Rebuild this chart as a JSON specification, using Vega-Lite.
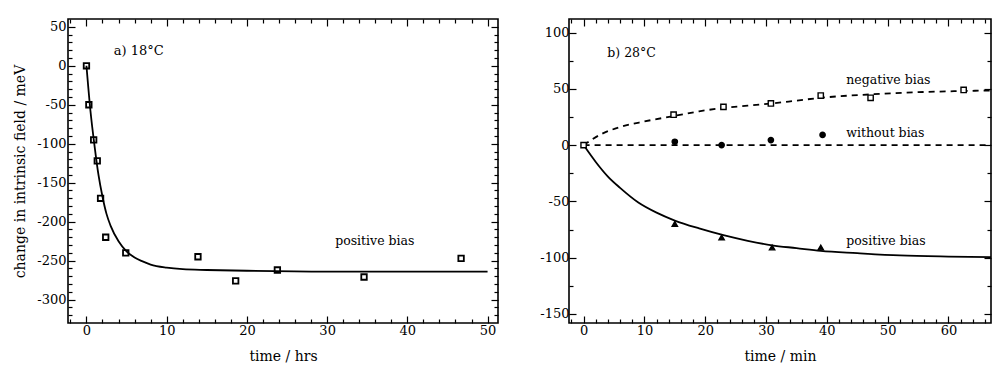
{
  "$schema": "https://vega.github.io/schema/vega-lite/v6.json",
  "padding": {"left": 12, "top": 17, "right": 0, "bottom": 0},
  "background": "white",
  "config": {
    "font": "DejaVu Serif",
    "view": {"stroke": "black", "strokeWidth": 1.6},
    "axis": {"labelFont": "DejaVu Serif", "titleFont": "DejaVu Serif", "labelFontSize": 13, "titleFontSize": 14, "titleFontWeight": "normal", "labelColor": "black", "titleColor": "black", "tickColor": "black", "grid": false, "domain": false, "tickWidth": 1.2}
  },
  "datasets": {
    "ptsA": [
      {"t": 0, "v": 0}, {"t": 0.3, "v": -50}, {"t": 0.9, "v": -95}, {"t": 1.35, "v": -122},
      {"t": 1.76, "v": -170}, {"t": 2.4, "v": -220}, {"t": 4.9, "v": -240}, {"t": 13.9, "v": -245},
      {"t": 18.6, "v": -276}, {"t": 23.8, "v": -262}, {"t": 34.6, "v": -271}, {"t": 46.7, "v": -247}
    ],
    "fitA": [
      {"t": 0, "v": 0}, {"t": 0.5, "v": -58}, {"t": 1, "v": -102}, {"t": 1.5, "v": -140},
      {"t": 2, "v": -168}, {"t": 2.5, "v": -190}, {"t": 3, "v": -205}, {"t": 4, "v": -225},
      {"t": 5, "v": -238}, {"t": 6, "v": -246}, {"t": 7, "v": -251}, {"t": 8, "v": -255},
      {"t": 10, "v": -259}, {"t": 12, "v": -261}, {"t": 15, "v": -262}, {"t": 20, "v": -263},
      {"t": 30, "v": -264}, {"t": 40, "v": -264}, {"t": 50, "v": -264}
    ],
    "ptsB": [
      {"t": 0, "v": 0, "s": "negative"}, {"t": 14.8, "v": 27, "s": "negative"}, {"t": 23, "v": 34, "s": "negative"},
      {"t": 30.8, "v": 37, "s": "negative"}, {"t": 39, "v": 44, "s": "negative"}, {"t": 47.2, "v": 42, "s": "negative"},
      {"t": 62.5, "v": 49, "s": "negative"},
      {"t": 15, "v": 3, "s": "without"}, {"t": 22.7, "v": 0, "s": "without"}, {"t": 30.8, "v": 4.5, "s": "without"},
      {"t": 39.3, "v": 9, "s": "without"},
      {"t": 15, "v": -70, "s": "positive"}, {"t": 22.7, "v": -82, "s": "positive"}, {"t": 31, "v": -91, "s": "positive"},
      {"t": 39, "v": -91, "s": "positive"}
    ],
    "fitPos": [
      {"t": 0, "v": 0}, {"t": 2, "v": -15}, {"t": 4, "v": -28}, {"t": 6, "v": -38}, {"t": 9, "v": -51},
      {"t": 12, "v": -60}, {"t": 15, "v": -67}, {"t": 19, "v": -74}, {"t": 23, "v": -80}, {"t": 27, "v": -85},
      {"t": 31, "v": -89}, {"t": 35, "v": -91.5}, {"t": 39, "v": -94}, {"t": 45, "v": -96}, {"t": 52, "v": -98},
      {"t": 60, "v": -99}, {"t": 67, "v": -99.5}
    ],
    "fitDash": [
      {"t": 0, "v": 0, "s": "negative"}, {"t": 3, "v": 10, "s": "negative"}, {"t": 6, "v": 16, "s": "negative"},
      {"t": 10, "v": 21, "s": "negative"}, {"t": 15, "v": 26, "s": "negative"}, {"t": 19, "v": 30, "s": "negative"},
      {"t": 23, "v": 33, "s": "negative"}, {"t": 27, "v": 35, "s": "negative"}, {"t": 31, "v": 37, "s": "negative"},
      {"t": 35, "v": 39.5, "s": "negative"}, {"t": 39, "v": 42, "s": "negative"}, {"t": 47, "v": 45, "s": "negative"},
      {"t": 55, "v": 47, "s": "negative"}, {"t": 62, "v": 48, "s": "negative"}, {"t": 67, "v": 48.5, "s": "negative"},
      {"t": 0, "v": 0, "s": "without"}, {"t": 67, "v": 0, "s": "without"}
    ],
    "txtA": [
      {"t": 3.4, "v": 19, "label": "a)  18°C"},
      {"t": 31, "v": -225, "label": "positive bias"}
    ],
    "txtB": [
      {"t": 3.9, "v": 82, "label": "b)  28°C"},
      {"t": 43.2, "v": 58, "label": "negative bias"},
      {"t": 43.2, "v": 11, "label": "without bias"},
      {"t": 43.2, "v": -85, "label": "positive bias"}
    ]
  },
  "hconcat": [
    {
      "width": 430,
      "height": 304,
      "resolve": {"axis": {"x": "independent", "y": "independent"}},
      "layer": [
        {
          "data": {"name": "fitA"},
          "mark": {"type": "line", "color": "black", "strokeWidth": 1.8, "interpolate": "monotone"},
          "encoding": {
            "x": {"field": "t", "type": "quantitative", "scale": {"domain": [-2.3, 51.3], "nice": false, "zero": false},
              "axis": {"orient": "bottom", "values": [0, 10, 20, 30, 40, 50], "tickSize": -7, "labelPadding": 8, "title": "time / hrs", "titlePadding": 12, "labelExpr": "datum.value + ''"}},
            "y": {"field": "v", "type": "quantitative", "scale": {"domain": [-330, 60], "nice": false, "zero": false},
              "axis": {"orient": "left", "values": [-300, -250, -200, -150, -100, -50, 0, 50], "tickSize": -7, "labelPadding": 9, "title": "change in intrinsic field / meV", "titlePadding": 9, "labelExpr": "datum.value + ''"}}
          }
        },
        {
          "data": {"name": "ptsA"},
          "mark": {"type": "point", "shape": "square", "filled": false, "color": "black", "strokeWidth": 1.8, "size": 30, "opacity": 1},
          "encoding": {
            "x": {"field": "t", "type": "quantitative", "scale": {"domain": [-2.3, 51.3], "nice": false, "zero": false},
              "axis": {"orient": "bottom", "values": [-2, 2, 4, 6, 8, 12, 14, 16, 18, 22, 24, 26, 28, 32, 34, 36, 38, 42, 44, 46, 48], "tickSize": -4, "labels": false, "title": null}},
            "y": {"field": "v", "type": "quantitative", "scale": {"domain": [-330, 60], "nice": false, "zero": false},
              "axis": {"orient": "left", "values": [-320, -310, -290, -280, -270, -260, -240, -230, -220, -210, -190, -180, -170, -160, -140, -130, -120, -110, -90, -80, -70, -60, -40, -30, -20, -10, 10, 20, 30, 40], "tickSize": -4, "labels": false, "title": null}}
          }
        },
        {
          "data": {"name": "txtA"},
          "transform": [{"filter": "datum.label != 'positive bias'"}],
          "mark": {"type": "text", "align": "left", "baseline": "middle", "fontSize": 13, "font": "DejaVu Serif", "color": "black"},
          "encoding": {
            "x": {"field": "t", "type": "quantitative", "scale": {"domain": [-2.3, 51.3], "nice": false, "zero": false},
              "axis": {"orient": "top", "values": [0, 10, 20, 30, 40, 50], "tickSize": -7, "labels": false, "title": null}},
            "y": {"field": "v", "type": "quantitative", "scale": {"domain": [-330, 60], "nice": false, "zero": false},
              "axis": {"orient": "right", "values": [-300, -250, -200, -150, -100, -50, 0, 50], "tickSize": -7, "labels": false, "title": null}},
            "text": {"field": "label"}
          }
        },
        {
          "data": {"name": "txtA"},
          "transform": [{"filter": "datum.label == 'positive bias'"}],
          "mark": {"type": "text", "align": "left", "baseline": "middle", "fontSize": 12.5, "font": "DejaVu Serif", "color": "black"},
          "encoding": {
            "x": {"field": "t", "type": "quantitative", "scale": {"domain": [-2.3, 51.3], "nice": false, "zero": false},
              "axis": {"orient": "top", "values": [-2, 2, 4, 6, 8, 12, 14, 16, 18, 22, 24, 26, 28, 32, 34, 36, 38, 42, 44, 46, 48], "tickSize": -4, "labels": false, "title": null}},
            "y": {"field": "v", "type": "quantitative", "scale": {"domain": [-330, 60], "nice": false, "zero": false},
              "axis": {"orient": "right", "values": [-320, -310, -290, -280, -270, -260, -240, -230, -220, -210, -190, -180, -170, -160, -140, -130, -120, -110, -90, -80, -70, -60, -40, -30, -20, -10, 10, 20, 30, 40], "tickSize": -4, "labels": false, "title": null}},
            "text": {"field": "label"}
          }
        }
      ]
    },
    {
      "width": 422,
      "height": 304,
      "resolve": {"axis": {"x": "independent", "y": "independent"}},
      "layer": [
        {
          "data": {"name": "fitPos"},
          "mark": {"type": "line", "color": "black", "strokeWidth": 1.8, "interpolate": "monotone"},
          "encoding": {
            "x": {"field": "t", "type": "quantitative", "scale": {"domain": [-2.4, 67], "nice": false, "zero": false},
              "axis": {"orient": "bottom", "values": [0, 10, 20, 30, 40, 50, 60], "tickSize": -7, "labelPadding": 8, "title": "time / min", "titlePadding": 12, "labelExpr": "datum.value + ''"}},
            "y": {"field": "v", "type": "quantitative", "scale": {"domain": [-158, 112], "nice": false, "zero": false},
              "axis": {"orient": "left", "values": [-150, -100, -50, 0, 50, 100], "tickSize": -7, "labelPadding": 7, "title": null, "labelExpr": "datum.value + ''"}}
          }
        },
        {
          "data": {"name": "fitDash"},
          "mark": {"type": "line", "color": "black", "strokeWidth": 1.8, "strokeDash": [6, 5], "interpolate": "monotone"},
          "encoding": {
            "detail": {"field": "s"},
            "x": {"field": "t", "type": "quantitative", "scale": {"domain": [-2.4, 67], "nice": false, "zero": false},
              "axis": {"orient": "bottom", "values": [-2, 2, 4, 6, 8, 12, 14, 16, 18, 22, 24, 26, 28, 32, 34, 36, 38, 42, 44, 46, 48, 52, 54, 56, 58, 62, 64, 66], "tickSize": -4, "labels": false, "title": null}},
            "y": {"field": "v", "type": "quantitative", "scale": {"domain": [-158, 112], "nice": false, "zero": false},
              "axis": {"orient": "left", "values": [-125, -75, -25, 25, 75], "tickSize": -4, "labels": false, "title": null}}
          }
        },
        {
          "data": {"name": "ptsB"},
          "mark": {"type": "point", "filled": true, "stroke": "black", "strokeWidth": 1.4, "size": 28, "opacity": 1},
          "encoding": {
            "x": {"field": "t", "type": "quantitative", "scale": {"domain": [-2.4, 67], "nice": false, "zero": false},
              "axis": {"orient": "top", "values": [0, 10, 20, 30, 40, 50, 60], "tickSize": -7, "labels": false, "title": null}},
            "y": {"field": "v", "type": "quantitative", "scale": {"domain": [-158, 112], "nice": false, "zero": false},
              "axis": {"orient": "right", "values": [-150, -100, -50, 0, 50, 100], "tickSize": -7, "labels": false, "title": null}},
            "shape": {"field": "s", "type": "nominal", "scale": {"domain": ["negative", "without", "positive"], "range": ["square", "circle", "triangle-up"]}, "legend": null},
            "fill": {"field": "s", "type": "nominal", "scale": {"domain": ["negative", "without", "positive"], "range": ["white", "black", "black"]}, "legend": null}
          }
        },
        {
          "data": {"name": "txtB"},
          "mark": {"type": "text", "align": "left", "baseline": "middle", "fontSize": 12.5, "font": "DejaVu Serif", "color": "black"},
          "encoding": {
            "x": {"field": "t", "type": "quantitative", "scale": {"domain": [-2.4, 67], "nice": false, "zero": false},
              "axis": {"orient": "top", "values": [-2, 2, 4, 6, 8, 12, 14, 16, 18, 22, 24, 26, 28, 32, 34, 36, 38, 42, 44, 46, 48, 52, 54, 56, 58, 62, 64, 66], "tickSize": -4, "labels": false, "title": null}},
            "y": {"field": "v", "type": "quantitative", "scale": {"domain": [-158, 112], "nice": false, "zero": false},
              "axis": {"orient": "right", "values": [-125, -75, -25, 25, 75], "tickSize": -4, "labels": false, "title": null}},
            "text": {"field": "label"}
          }
        }
      ]
    }
  ],
  "spacing": 38
}
